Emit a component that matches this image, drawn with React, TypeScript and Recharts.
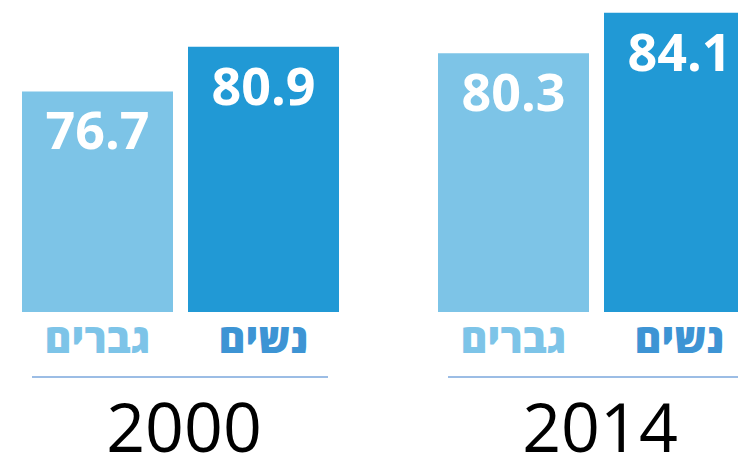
import React from "react";
import { BarChart, Bar, XAxis, YAxis, LabelList } from "recharts";

const years = ["2000", "2014"];
const men = [76.7, 80.3];
const women = [80.9, 84.1];
const menLabel = "גברים";
const womenLabel = "נשים";

const data = years.map((year, i) => ({ year, men: men[i], women: women[i] }));

const FONT = "'Open Sans', 'DejaVu Sans', sans-serif";

const YearTick = ({ x, y, payload }: any) => (
  <g>
    <line x1={x - 148} x2={x + 148} y1={y + 65} y2={y + 65} stroke="#7ba7dc" strokeWidth={1.5} />
    <text
      x={x + 4}
      y={y + 140}
      textAnchor="middle"
      fontFamily={FONT}
      fontSize={68}
      fill="#000"
    >
      {payload.value}
    </text>
  </g>
);

const nameLabel = (text: string, color: string) => (props: any) => {
  const { x, y, width, height } = props;
  return (
    <text
      x={x + width / 2}
      y={y + height + 41}
      textAnchor="middle"
      fontFamily={FONT}
      fontWeight={800}
      fontSize={41}
      fill={color}
      direction="rtl"
    >
      {text}
    </text>
  );
};

export default function App() {
  return (
    <div
      style={{
        position: "fixed",
        left: 0,
        top: 0,
        width: 738,
        height: 461,
        overflow: "hidden",
        background: "#fff",
      }}
    >
      <div style={{ position: "absolute", left: -28, top: 0 }}>
        <BarChart
          width={832}
          height={461}
          data={data}
          margin={{ top: 0, right: 0, left: 0, bottom: 0 }}
          barSize={151}
          barGap={15}
        >
          <XAxis
            dataKey="year"
            height={149}
            axisLine={false}
            tickLine={false}
            tickSize={0}
            tickMargin={0}
            tick={<YearTick />}
            interval={0}
          />
          <YAxis hide domain={[56, 85.3]} allowDataOverflow />
          <Bar dataKey="men" fill="#7dc4e7" isAnimationActive={false}>
            <LabelList
              dataKey="men"
              position="insideTop"
              offset={21}
              fill="#fff"
              fontFamily={FONT}
              fontWeight="bold"
              fontSize={52}
            />
            <LabelList dataKey="men" content={nameLabel(menLabel, "#7dc4e8")} />
          </Bar>
          <Bar dataKey="women" fill="#2199d5" isAnimationActive={false}>
            <LabelList
              dataKey="women"
              position="insideTop"
              offset={21}
              fill="#fff"
              fontFamily={FONT}
              fontWeight="bold"
              fontSize={52}
            />
            <LabelList dataKey="women" content={nameLabel(womenLabel, "#3d94d4")} />
          </Bar>
        </BarChart>
      </div>
    </div>
  );
}
